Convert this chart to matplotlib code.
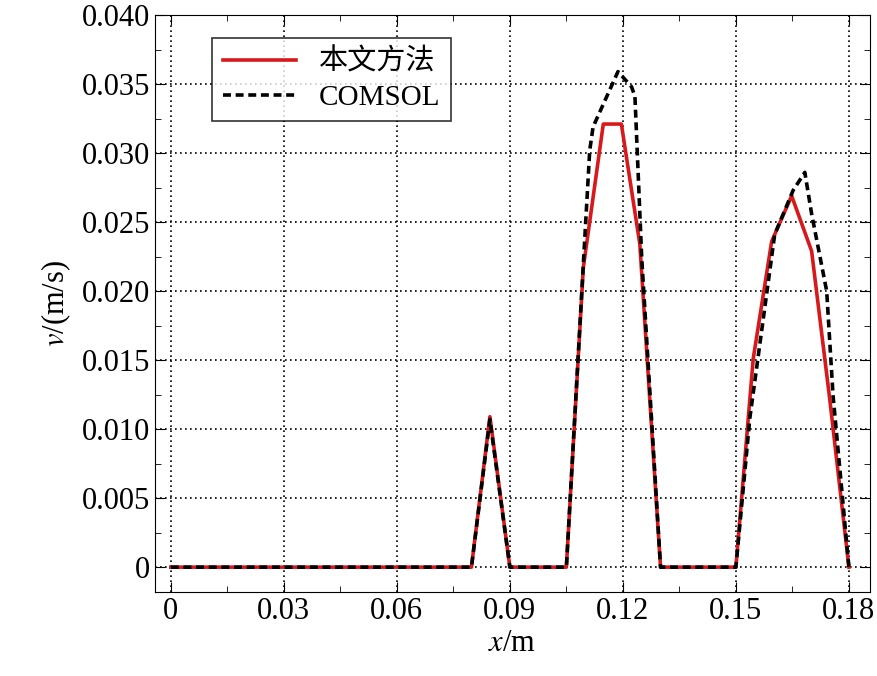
import matplotlib
matplotlib.use('Agg')
import matplotlib.pyplot as plt
from matplotlib.ticker import MultipleLocator

plt.rcParams['font.family'] = ['Liberation Serif', 'Noto Sans CJK SC']
plt.rcParams['mathtext.fontset'] = 'stix'

# --- данные ---
x_red = [0, 0.0798, 0.0847, 0.09, 0.105, 0.1095, 0.1148, 0.1196, 0.1245, 0.13,
         0.15, 0.1546, 0.1595, 0.1648, 0.1701, 0.1749, 0.18]
v_red = [0, 0, 0.0109, 0, 0, 0.0217, 0.0321, 0.0321, 0.0234, 0,
         0, 0.0151, 0.0236, 0.0269, 0.0229, 0.0122, 0]

x_com = [0, 0.0798, 0.0847, 0.09, 0.105, 0.1077, 0.1112, 0.1121, 0.1187, 0.1223,
         0.1232, 0.125, 0.13, 0.15, 0.1537, 0.1603, 0.1652, 0.1683, 0.1701,
         0.1741, 0.1758, 0.18]
v_com = [0, 0, 0.0107, 0, 0, 0.0132, 0.0302, 0.0319, 0.0359, 0.0348,
         0.0341, 0.0224, 0, 0, 0.0108, 0.0241, 0.0273, 0.0286, 0.0256,
         0.0200, 0.0124, 0]

fig = plt.figure(figsize=(8.77, 6.76), dpi=100)
ax = fig.add_axes([155 / 877, 1 - 592 / 676, 715 / 877, 577 / 676])

ax.plot(x_red, v_red, color='#d7191c', lw=2.6, label='本文方法')
ax.plot(x_com, v_com, color='black', lw=2.6, ls=(0, (2.2, 1.3)), label='COMSOL')

ax.set_xlim(-0.0042, 0.1856)
ax.set_ylim(-0.0018, 0.04)
ax.xaxis.set_minor_locator(MultipleLocator(0.015))
ax.yaxis.set_minor_locator(MultipleLocator(0.0025))
ax.set_xticks([0, 0.03, 0.06, 0.09, 0.12, 0.15, 0.18])
ax.set_xticklabels(['0', '0.03', '0.06', '0.09', '0.12', '0.15', '0.18'])
ax.set_yticks([0.005 * i for i in range(9)])
ax.set_yticklabels(['0'] + ['%.3f' % (0.005 * i) for i in range(1, 9)])
ax.tick_params(which='both', direction='in', top=True, right=True, labelsize=22)
ax.tick_params(which='major', length=7)
ax.tick_params(which='minor', length=4)
ax.grid(True, which='major', ls=(0, (1, 2)), color='black', lw=1.2)

ax.set_xlabel(r'$x$/m', fontsize=22, labelpad=2)
ax.set_ylabel(r'$v$/(m/s)', fontsize=22, labelpad=6)

leg = ax.legend(loc='upper left', bbox_to_anchor=(0.06, 0.985), fontsize=21,
                fancybox=False, edgecolor='black', handlelength=2.5, borderpad=0.35,
                labelspacing=0.3)
leg.get_frame().set_linewidth(1.2)

fig.savefig('out.png', dpi=100)
